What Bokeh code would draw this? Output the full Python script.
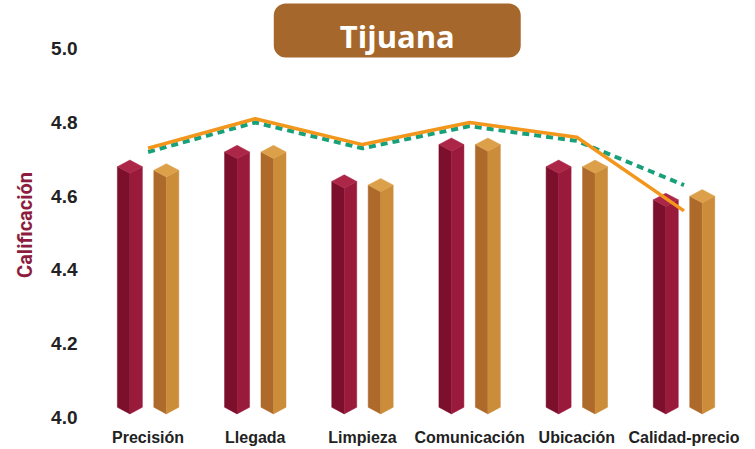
from bokeh.plotting import figure
from bokeh.models import FixedTicker, BoxAnnotation, Label, ColumnDataSource
from bokeh.core.properties import value
from bokeh.embed import file_html
from bokeh.resources import INLINE

# ---- data ----
categories = ["Precisión", "Llegada", "Limpieza", "Comunicación", "Ubicación", "Calidad-precio"]
serie_roja = [4.68, 4.72, 4.64, 4.74, 4.68, 4.59]
serie_dorada = [4.67, 4.72, 4.63, 4.74, 4.68, 4.60]
linea_naranja = [4.73, 4.81, 4.74, 4.80, 4.76, 4.56]
linea_verde = [4.72, 4.80, 4.73, 4.79, 4.75, 4.63]
y_ticks = [4.0, 4.2, 4.4, 4.6, 4.8, 5.0]
titulo = "Tijuana"
eje_y = "Calificación"

# ---- geometry / style ----
OFFSET = 0.17      # bar centre offset from category centre (x units)
HW = 0.1166        # half width of a bar (x units)
D = 0.018          # half height of the top diamond (y units)
BASE = 4.027       # bar base (y units)

RED = ("#7B0F2C", "#9A1A3C", "#AC2648")
GOLD = ("#AE6A2B", "#CC8D3B", "#DCA04A")

p = figure(width=755, height=449, x_range=(0, 6.167), y_range=(3.9123, 5.1311),
           output_backend="svg", toolbar_location=None,
           min_border_left=94, min_border_right=0, min_border_top=0, min_border_bottom=0)
p.outline_line_color = None
p.xgrid.visible = False
p.ygrid.visible = False
p.xaxis.visible = False

centers = [i + 0.5 for i in range(len(categories))]


def prisms(vals, off, colors):
    lx, ly, rx, ry, tx, ty = [], [], [], [], [], []
    for c, v in zip(centers, vals):
        xc = c + off
        lx.append([xc - HW, xc, xc, xc - HW])
        ly.append([v, v - D, BASE - D, BASE])
        rx.append([xc, xc + HW, xc + HW, xc])
        ry.append([v - D, v, BASE, BASE - D])
        tx.append([xc - HW, xc, xc + HW, xc])
        ty.append([v, v + D, v, v - D])
    p.patches(lx, ly, fill_color=colors[0], line_color=colors[0], line_width=0.5)
    p.patches(rx, ry, fill_color=colors[1], line_color=colors[1], line_width=0.5)
    p.patches(tx, ty, fill_color=colors[2], line_color=colors[2], line_width=0.5)


prisms(serie_roja, -OFFSET, RED)
prisms(serie_dorada, OFFSET, GOLD)

p.line(centers, linea_verde, line_color="#17A07A", line_width=4, line_dash="7 5")
p.line(centers, linea_naranja, line_color="#F2961C", line_width=3.5)

# category labels
label_y = 3.945
src = ColumnDataSource(dict(x=centers, y=[label_y] * len(categories), t=categories))
p.text(x="x", y="y", text="t", source=src, text_font=value("Liberation Sans"),
       text_font_style="bold", text_font_size="16px", text_color="#222222",
       text_align="center", text_baseline="middle")

# y axis
p.yaxis.ticker = FixedTicker(ticks=y_ticks)
p.yaxis.major_label_overrides = {t: f"{t:.1f}" for t in y_ticks}
p.yaxis.axis_line_color = None
p.yaxis.major_tick_line_color = None
p.yaxis.minor_tick_line_color = None
p.yaxis.major_label_standoff = 11
p.yaxis.major_label_text_font = "Liberation Sans"
p.yaxis.major_label_text_font_style = "bold"
p.yaxis.major_label_text_font_size = "19px"
p.yaxis.major_label_text_color = "#222222"
p.yaxis.axis_label = eje_y
p.yaxis.axis_label_text_font = "Roboto"
p.yaxis.axis_label_text_font_style = "bold"
p.yaxis.axis_label_text_font_size = "20px"
p.yaxis.axis_label_text_color = "#8C1D3E"
p.yaxis.axis_label_standoff = 11

# title box
box = BoxAnnotation(left=1.6726, right=3.9767, bottom=4.9764, top=5.123,
                    fill_color="#A5672B", fill_alpha=1.0, line_color=None,
                    border_radius=12)
p.add_layout(box)
p.add_layout(Label(x=2.825, y=5.0334, text=titulo, text_font="Open Sans",
                   text_font_style="bold", text_font_size="31px",
                   text_color="white", text_align="center", text_baseline="alphabetic"))

open("out.html", "w").write(file_html(p, INLINE))
